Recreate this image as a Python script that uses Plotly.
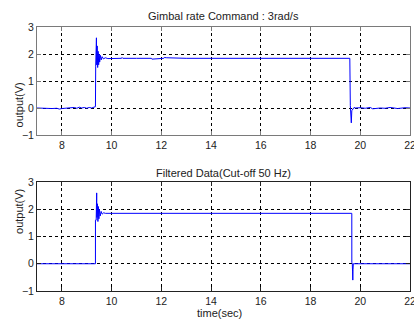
import plotly.graph_objects as go

# Raw measured output (top plot)
t_raw = [7.0, 7.2, 7.4, 7.6, 7.8, 7.9, 8.0, 8.2, 8.4, 8.5, 8.6, 8.7, 8.8, 8.9, 9.0, 9.1, 9.2, 9.3, 9.34,
         9.35, 9.36, 9.37, 9.38, 9.39, 9.40, 9.42, 9.44, 9.46, 9.48, 9.50, 9.52, 9.55, 9.58, 9.62, 9.67,
         9.75, 9.85, 10.0, 10.4, 10.42, 10.45, 11.0, 11.6, 11.62, 12.0, 12.1, 12.12, 12.2, 12.22, 13.0,
         14.0, 15.0, 16.0, 17.0, 18.0, 19.0, 19.58, 19.6, 19.62, 19.64, 19.66, 19.7, 19.75, 19.8, 20.0,
         20.2, 20.4, 20.5, 20.6, 20.8, 21.0, 21.2, 21.5, 21.8, 22.0]
v_raw = [0.0, -0.01, 0.0, -0.02, -0.01, -0.04, -0.02, -0.01, 0.0, 0.02, -0.01, 0.03, 0.0, 0.02, -0.01, 0.02, 0.0, 0.03, 0.02,
         0.05, 1.55, 2.4, 1.9, 2.6, 1.6, 2.3, 1.5, 2.1, 1.6, 2.0, 1.7, 1.95, 1.78, 1.9, 1.82,
         1.86, 1.83, 1.84, 1.84, 1.87, 1.84, 1.84, 1.84, 1.81, 1.84, 1.84, 1.87, 1.84, 1.86, 1.84,
         1.84, 1.84, 1.84, 1.84, 1.84, 1.84, 1.84, 0.1, -0.2, -0.55, -0.1, -0.05, 0.02, 0.0, 0.01,
         -0.01, 0.02, -0.03, -0.02, 0.0, -0.01, 0.02, -0.02, 0.01, 0.0]

# Filtered output (bottom plot)
t_filt = [7.0, 8.8, 8.81, 8.82, 9.35, 9.351, 9.38, 9.40, 9.41, 9.43, 9.45, 9.47, 9.49, 9.51, 9.54,
          9.58, 9.62, 9.68, 9.75, 19.66, 19.661, 19.68, 19.69, 19.70, 19.71, 19.72, 22.0]
v_filt = [0.0, 0.0, 0.02, 0.0, 0.0, 1.6, 1.6, 2.6, 1.7, 2.2, 1.55, 2.1, 1.65, 2.0, 1.75,
          1.92, 1.82, 1.87, 1.85, 1.85, 0.05, 0.0, -0.3, -0.6, -0.2, 0.0, 0.0]

x_ticks = [8, 10, 12, 14, 16, 18, 20, 22]
y_ticks = [-1, 0, 1, 2, 3]
titles = ["Gimbal rate Command : 3rad/s", "Filtered Data(Cut-off 50 Hz)"]

FONT = "Liberation Sans, Arial, sans-serif"

fig = go.Figure()
fig.add_trace(go.Scatter(x=t_raw, y=v_raw, mode="lines", line=dict(color="#0000ff", width=1),
                         xaxis="x", yaxis="y", showlegend=False))
fig.add_trace(go.Scatter(x=t_filt, y=v_filt, mode="lines", line=dict(color="#0000ff", width=1),
                         xaxis="x2", yaxis="y2", showlegend=False))

def xax(anchor, linecolor):
    return dict(range=[7, 22], tickvals=x_ticks, ticks="inside", ticklen=4, tickcolor=linecolor,
                showline=True, linecolor=linecolor, linewidth=1, mirror="ticks",
                showgrid=True, gridcolor="#000000", griddash="dot", gridwidth=1,
                zeroline=False, anchor=anchor, ticklabeloverflow="allow", automargin=False,
                tickfont=dict(size=10.5, color="#222"))

def yax(anchor, domain, linecolor):
    return dict(range=[-1, 3], tickvals=y_ticks, ticks="inside", ticklen=4, tickcolor=linecolor,
                showline=True, linecolor=linecolor, linewidth=1, mirror="ticks",
                showgrid=True, gridcolor="#000000", griddash="dot", gridwidth=1,
                zeroline=False, anchor=anchor, domain=domain, automargin=False,
                tickfont=dict(size=10.5, color="#222"))

fig.update_layout(
    width=414, height=320,
    margin=dict(l=37, r=4, t=27, b=29),
    paper_bgcolor="white", plot_bgcolor="white",
    font=dict(family=FONT, size=11, color="#222"),
    xaxis=xax("y", "#7a7a7a"),
    yaxis=yax("x", [0.5909, 1.0], "#7a7a7a"),
    xaxis2=xax("y2", "#222222"),
    yaxis2=yax("x2", [0.0, 0.4129], "#222222"),
)

annotations = [
    dict(text=titles[0], xref="paper", yref="paper", x=0.5, y=1.0, yanchor="bottom", yshift=3,
         showarrow=False, font=dict(size=11)),
    dict(text=titles[1], xref="paper", yref="paper", x=0.5, y=0.4129, yanchor="bottom", yshift=1,
         showarrow=False, font=dict(size=11)),
    dict(text="output(V)", xref="paper", yref="paper", x=0, xshift=-26, y=0.7955, textangle=-90,
         showarrow=False, font=dict(size=11)),
    dict(text="output(V)", xref="paper", yref="paper", x=0, xshift=-26, y=0.2065, textangle=-90,
         showarrow=False, font=dict(size=11)),
    dict(text="time(sec)", xref="paper", yref="paper", x=0.49, y=0, yanchor="top", yshift=-14,
         showarrow=False, font=dict(size=11)),
]
fig.update_layout(annotations=annotations)

fig.write_html("out.html")
